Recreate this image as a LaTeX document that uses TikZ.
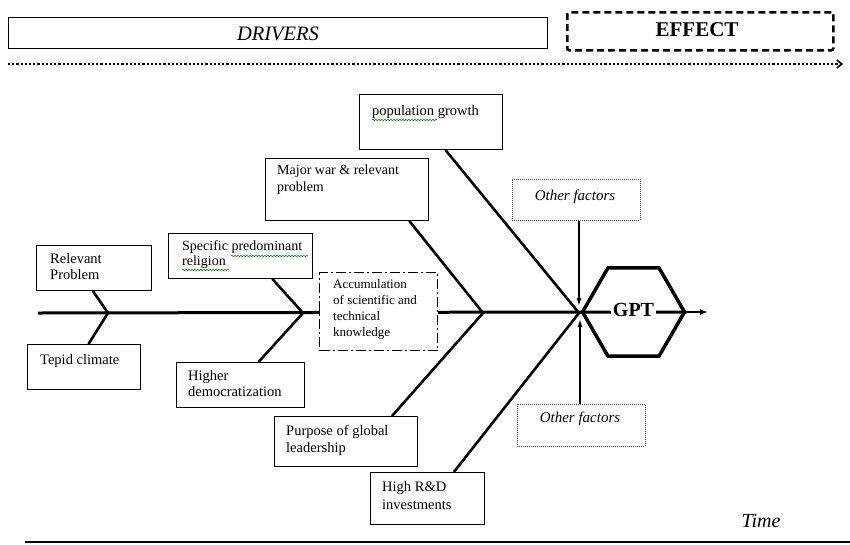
\documentclass[tikz,border=0pt]{standalone}
\usepackage{fontspec}
\setmainfont{Liberation Serif}
\usetikzlibrary{calc,shapes.geometric,arrows.meta,backgrounds,decorations.pathmorphing}
\begin{document}
\begin{tikzpicture}[x=1pt,y=-1pt,
  box/.style={draw, line width=0.9pt, fill=white, inner sep=0pt, anchor=north west},
  lbl/.style={anchor=north west, inner sep=0pt, align=left, font=\fontsize{14.5}{16.5}\selectfont},
  smalllbl/.style={anchor=north west, inner sep=0pt, align=left, font=\fontsize{13}{16}\selectfont},
  bone/.style={line width=2.6pt},
  spine/.style={line width=3pt},
  ofbox/.style={draw=black!70, line width=0.8pt, dash pattern=on 1pt off 1pt, fill=white, inner sep=0pt, anchor=north west},
  oflbl/.style={inner sep=0pt, font=\fontsize{15}{17}\selectfont\itshape},
  ofarrow/.style={line width=1.4pt, -{Latex[length=8pt,width=5pt]}},
  squig/.style={green!55!black, line width=0.6pt, decorate, decoration={snake, segment length=3pt, amplitude=0.8pt}}
]
\useasboundingbox (0,0) rectangle (850,544);

% header
\node[draw, line width=0.9pt, minimum width=539pt, minimum height=31pt, inner sep=0pt, anchor=north west] (drv) at (8,17) {};
\node[inner sep=0pt, font=\fontsize{20.5}{22}\selectfont\itshape] (drvt) at (278,34) {DRIVERS};
\node[draw, line width=2.6pt, dash pattern=on 7pt off 4pt, rounded corners=2pt, minimum width=266pt, minimum height=38pt, inner sep=0pt, anchor=north west] (eff) at (566,11) {};
\node[inner sep=0pt, font=\fontsize{21}{23}\selectfont\bfseries] (efft) at (697,30) {EFFECT};
\coordinate (T0) at (8,64);
\coordinate (T1) at (843,64);
\draw[line width=2.6pt, dash pattern=on 2.2pt off 2pt, -{Straight Barb[length=5pt,width=8pt,line width=1.5pt]}] (T0) -- (T1);

% junctions
\coordinate (S0) at (38,313);
\coordinate (J1) at (108,313);
\coordinate (J2) at (303,313);
\coordinate (J3) at (483,313);
\coordinate (J4) at (579,313);
\coordinate (AE) at (708,312);

% boxes
\node[box, minimum width=115pt, minimum height=45pt] (rp) at (36,245) {};
\node[lbl] (rpt) at (50,253) {Relevant\\Problem};
\node[box, minimum width=113pt, minimum height=45pt] (tc) at (27,344) {};
\node[lbl] (tct) at (40,354) {Tepid climate};
\node[box, minimum width=144pt, minimum height=45pt] (sr) at (168,233) {};
\node[lbl, font=\fontsize{14}{15.5}\selectfont] (srt) at (182,240) {Specific predominant\\religion};
\node[box, minimum width=128pt, minimum height=45pt] (hd) at (176,362) {};
\node[lbl] (hdt) at (188,370) {Higher\\democratization};
\node[box, minimum width=163pt, minimum height=62pt] (mw) at (265,158) {};
\node[lbl, font=\fontsize{14}{17}\selectfont] (mwt) at (277,165) {Major war \& relevant\\problem};
\node[box, minimum width=143pt, minimum height=50pt] (pl) at (274,416) {};
\node[lbl, font=\fontsize{14.5}{17}\selectfont] (plt) at (286,425) {Purpose of global\\leadership};
\node[box, minimum width=143pt, minimum height=55pt] (pop) at (359,94) {};
\node[lbl] (popt) at (372,105) {population growth};
\node[box, minimum width=114pt, minimum height=52pt] (rd) at (370,472) {};
\node[lbl, font=\fontsize{14.5}{18}\selectfont] (rdt) at (382,481) {High R\&D\\investments};
\node[box, line width=1.3pt, dash pattern=on 10pt off 3pt on 2pt off 3pt, minimum width=118pt, minimum height=78pt] (acc) at (319,272) {};
\node[smalllbl] (acct) at (333,279) {Accumulation\\of scientific and\\technical\\knowledge};

% other factors
\node[ofbox, minimum width=128pt, minimum height=41pt] (of1) at (512,179) {};
\node[oflbl] (of1t) at (575,197) {Other factors};
\node[ofbox, minimum width=128pt, minimum height=42pt] (of2) at (517,404) {};
\node[oflbl] (of2t) at (580,419) {Other factors};
\coordinate (A1) at (579,306);
\coordinate (A2) at (580,319);

% GPT hexagon
\node[regular polygon, regular polygon sides=6, minimum size=102pt, inner sep=0pt, draw, line width=3.5pt] (gpt) at (633.5,312) {};
\node[fill=white, inner sep=2pt, font=\fontsize{20}{22}\selectfont\bfseries] (gptt) at (633.5,310) {GPT};

% time
\node[inner sep=0pt, font=\fontsize{20}{22}\selectfont\itshape] (time) at (761,521) {Time};
\coordinate (B0) at (25,542);
\coordinate (B1) at (850,542);
\draw[line width=2pt] (B0) -- (B1);

% squiggles
\draw[squig] (231,256) -- (308,256);
\draw[squig] (182,270) -- (229,270);
\draw[squig] (372,120) -- (437,120);

\begin{scope}[on background layer]
  \draw[spine] (S0) -- (gpt.west) -- (gpt.east);
  \draw[line width=2pt, -{Latex[length=8pt,width=6pt]}] (gpt.east) -- (AE);
  \draw[bone] ($(rp.south west)!0.49!(rp.south east)$) -- (J1) -- ($(tc.north west)!0.54!(tc.north east)$);
  \draw[bone] ($(sr.south west)!0.72!(sr.south east)$) -- (J2) -- ($(hd.north west)!0.64!(hd.north east)$);
  \draw[bone] ($(mw.south west)!0.88!(mw.south east)$) -- (J3) -- ($(pl.north west)!0.82!(pl.north east)$);
  \draw[bone] ($(pop.south west)!0.60!(pop.south east)$) -- (J4) -- ($(rd.north west)!0.73!(rd.north east)$);
  \draw[ofarrow] (of1.south -| A1) -- (A1);
  \draw[ofarrow] (of2.north -| A2) -- (A2);
\end{scope}
\end{tikzpicture}
\end{document}
